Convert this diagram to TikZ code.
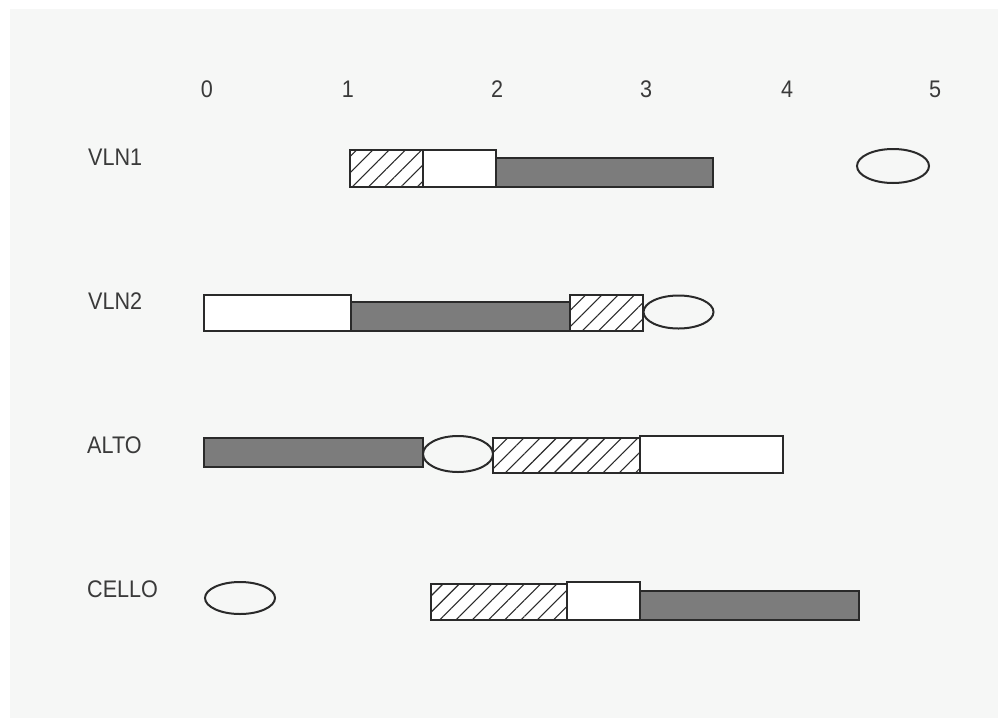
\documentclass[tikz,border=0pt]{standalone}
\usepackage{fontspec}
\setmainfont{Liberation Sans}[FakeStretch=0.9]
\usetikzlibrary{patterns.meta}
\definecolor{bgc}{HTML}{F6F7F6}
\definecolor{ink}{HTML}{2A2A2A}
\definecolor{txt}{HTML}{3A3A3A}
\definecolor{dk}{HTML}{7C7C7C}
\tikzset{
  lbl/.style={anchor=base west,text=txt,font=\fontsize{24}{26}\selectfont,inner sep=0pt},
  tick/.style={anchor=base,text=txt,font=\fontsize{24}{26}\selectfont,inner sep=0pt},
  bar/.style={draw=ink,line width=2pt},
  plain/.style={bar,fill=white},
  dark/.style={bar,fill=dk},
  hatch/.style={bar,preaction={fill=white},pattern={Lines[angle=45,distance=11.5pt,line width=1.1pt]},pattern color=ink},
  oval/.style={draw=ink,line width=2pt}
}
\begin{document}
\begin{tikzpicture}[x=1pt,y=-1pt]
\useasboundingbox (0,0) rectangle (998,718);
\fill[white] (0,0) rectangle (998,718);
\fill[bgc] (10,9) rectangle (998,718);
% scale
\node[tick] (t0) at (207,97) {0};
\node[tick] (t1) at (348,97) {1};
\node[tick] (t2) at (497,97) {2};
\node[tick] (t3) at (646,97) {3};
\node[tick] (t4) at (787,97) {4};
\node[tick] (t5) at (935,97) {5};
% labels
\node[lbl] (l1) at (88,165) {VLN1};
\node[lbl] (l2) at (88,309) {VLN2};
\node[lbl] (l3) at (87,453) {ALTO};
\node[lbl] (l4) at (87,597) {CELLO};
% VLN1
\draw[dark] (496,158) rectangle (713,187);
\draw[hatch] (350,150) rectangle (423,187);
\draw[plain] (423,150) rectangle (496,187);
\draw[oval] (893,166) ellipse [x radius=36, y radius=17];
% VLN2
\draw[plain] (204,295) rectangle (351,331);
\draw[dark] (351,302) rectangle (570,331);
\draw[hatch] (570,295) rectangle (643,331);
\draw[oval] (678.5,312) ellipse [x radius=35, y radius=16.5];
% ALTO
\draw[dark] (204,438) rectangle (423,467);
\draw[oval] (458,454) ellipse [x radius=35, y radius=18];
\draw[hatch] (493,438) rectangle (640,473);
\draw[plain] (640,436) rectangle (783,473);
% CELLO
\draw[oval] (240,598) ellipse [x radius=35, y radius=16];
\draw[hatch] (431,584) rectangle (567,620);
\draw[dark] (640,591) rectangle (859,620);
\draw[plain] (567,582) rectangle (640,620);
\end{tikzpicture}
\end{document}
